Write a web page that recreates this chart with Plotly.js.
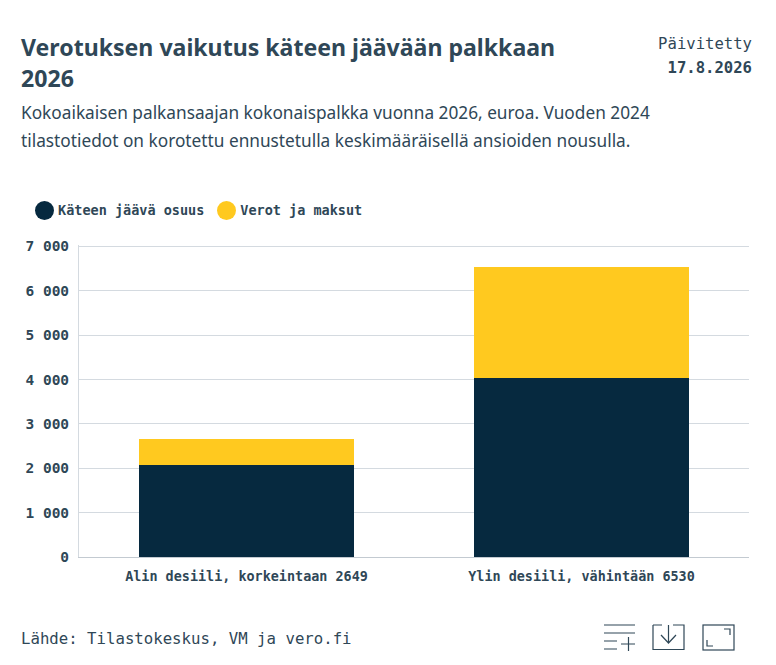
<!DOCTYPE html>
<html>
<head>
<meta charset="utf-8">
<script src="https://cdn.plot.ly/plotly-3.0.1.min.js"></script>
<style>
  html, body { margin: 0; padding: 0; background: #fff; overflow: hidden; }
  #page { position: relative; width: 776px; height: 665px; color: #2f4757; }
  #page > div, #page > svg { position: absolute; }
  #myChart { left: 0; top: 0; width: 776px; height: 665px; }
  #title { left: 21px; top: 32px; width: 590px; font: 700 23.1px/31px "Noto Sans", sans-serif; }
  #subtitle { left: 21px; top: 99px; width: 700px; font: 400 17.25px/28px "Noto Sans", sans-serif; }
  #updated { right: 24px; top: 32px; text-align: right; font: 400 15.6px/24px "DejaVu Sans Mono", monospace; }
  #updated b { font-weight: 700; font-size: 15.6px; }
  #legend { left: 35px; top: 201px; display: flex; align-items: center; font: 700 13.5px/19px "DejaVu Sans Mono", monospace; }
  #legend i { display: inline-block; width: 19px; height: 19px; border-radius: 50%; margin-right: 4px; }
  #legend span { margin-right: 13px; display: flex; align-items: center; }
  #source { left: 21px; top: 629px; font: 400 15.7px/20px "DejaVu Sans Mono", monospace; }
  svg.icon { fill: none; stroke: #2f4757; stroke-width: 1.2; }
</style>
</head>
<body>
<div id="page">
  <div id="myChart"></div>
  <div id="title">Verotuksen vaikutus käteen jäävään palkkaan<br>2026</div>
  <div id="subtitle">Kokoaikaisen palkansaajan kokonaispalkka vuonna 2026, euroa. Vuoden 2024<br>tilastotiedot on korotettu ennustetulla keskimääräisellä ansioiden nousulla.</div>
  <div id="updated">Päivitetty<br><b>17.8.2026</b></div>
  <div id="legend"></div>
  <div id="source">Lähde: Tilastokeskus, VM ja vero.fi</div>
  <svg class="icon" style="left:603px;top:624px" width="32" height="28">
    <path d="M1 1H33M1 9H33M1 17H14M1 25H14M18 20H33M25.5 13V27"/>
  </svg>
  <svg class="icon" style="left:652px;top:624px" width="33" height="28">
    <path d="M1 1H10M21 1H32V25.5H1V1M16.5 1V18M9 11L16.5 19L24 11"/>
  </svg>
  <svg class="icon" style="left:702px;top:624px" width="33" height="28">
    <rect x="1" y="1" width="31" height="25"/><path d="M22 5H28V11M5 16V22H11"/>
  </svg>
</div>
<script>
// chart data, euros per month
const categories = ["Alin desiili, korkeintaan 2649", "Ylin desiili, vähintään 6530"];
const net_pay = [2075, 4040];
const taxes = [574, 2490];
const series_names = ["Käteen jäävä osuus", "Verot ja maksut"];
const series_colors = ["#06293f", "#ffc91f"];
const y_ticks = [0, 1000, 2000, 3000, 4000, 5000, 6000, 7000];

const text_color = '#2f4757';
const mono_font = '"DejaVu Sans Mono", monospace';

function make_bar(values, index) {
    return {
        x: categories,
        y: values,
        name: series_names[index],
        type: 'bar',
        width: 0.64,
        marker: { color: series_colors[index] },
        hoverinfo: 'y+name'
    };
}

const traces = [make_bar(net_pay, 0), make_bar(taxes, 1)];

const layout = {
    width: 776,
    height: 665,
    barmode: 'stack',
    showlegend: false,
    separators: ', ',
    paper_bgcolor: 'rgba(0,0,0,0)',
    plot_bgcolor: 'rgba(0,0,0,0)',
    // range goes a bit over 7000 or plotly drops the top gridline
    margin: { l: 79, r: 27, t: 244.67, b: 108, pad: 0 },
    xaxis: {
        type: 'category',
        showgrid: false,
        showline: true,
        linecolor: '#c3cad1',
        linewidth: 1,
        ticks: 'outside',
        ticklen: 7,
        tickcolor: 'rgba(0,0,0,0)',
        tickfont: { family: mono_font, size: 13.45, color: text_color, weight: 700 }
    },
    yaxis: {
        range: [0, 7030],
        tickvals: y_ticks,
        tickformat: ',d',
        gridcolor: '#d4dae0',
        gridwidth: 1,
        zeroline: false,
        showline: true,
        linecolor: '#d4dae0',
        ticks: 'outside',
        ticklen: 6,
        tickcolor: 'rgba(0,0,0,0)',
        tickfont: { family: mono_font, size: 14.5, color: text_color, weight: 700 }
    }
};

Plotly.newPlot('myChart', traces, layout, { displayModeBar: false });

// circle legend, plotly only draws squares for bars
const legend = document.getElementById('legend');
series_names.forEach((name, i) => {
    const item = document.createElement('span');
    const dot = document.createElement('i');
    dot.style.background = series_colors[i];
    item.appendChild(dot);
    item.appendChild(document.createTextNode(name));
    legend.appendChild(item);
});
</script>
</body>
</html>
